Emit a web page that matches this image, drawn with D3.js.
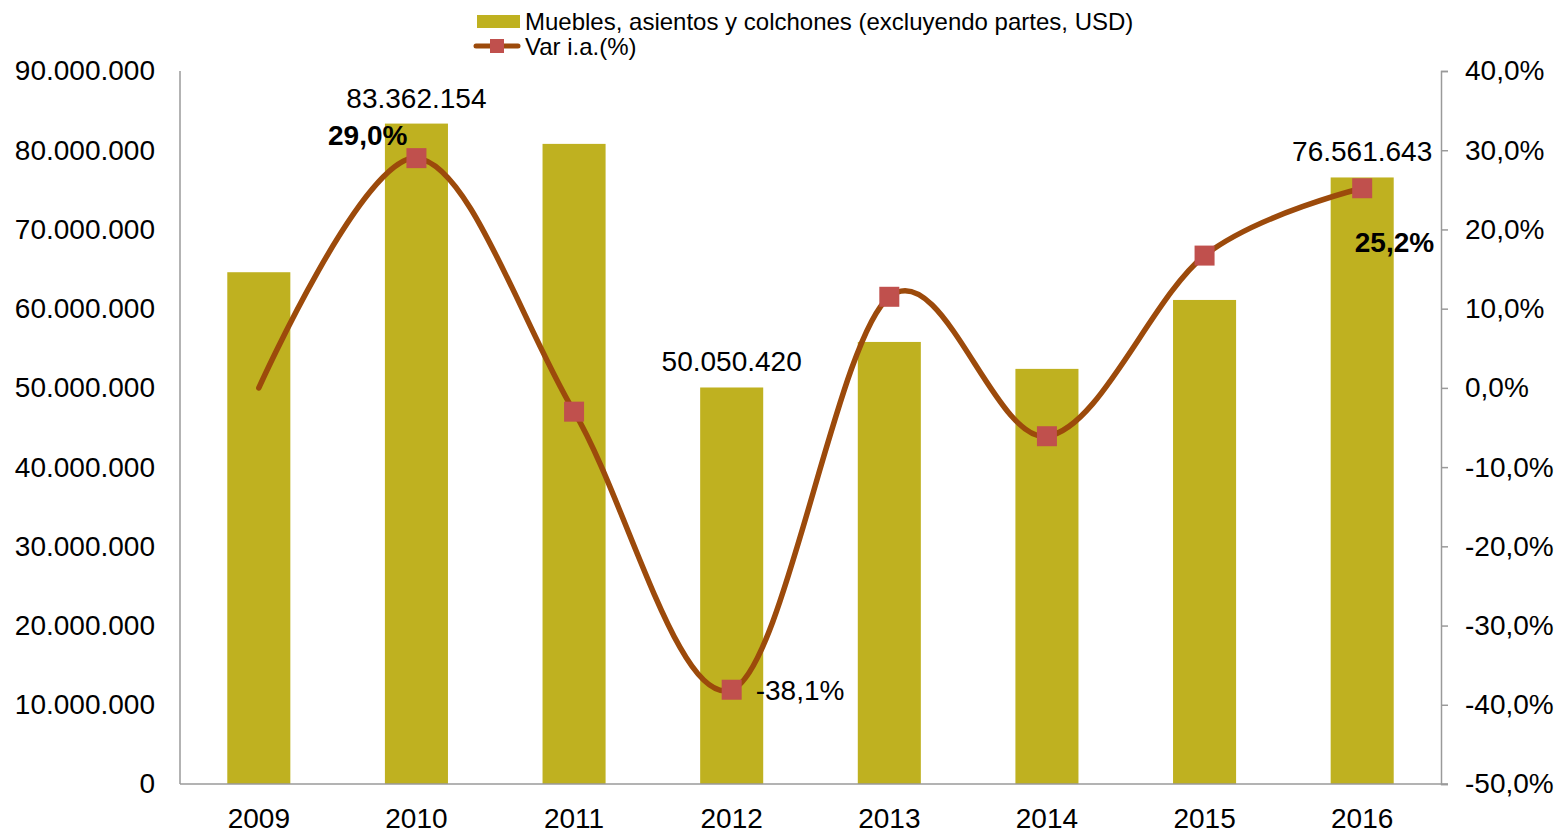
<!DOCTYPE html>
<html>
<head>
<meta charset="utf-8">
<script src="https://cdn.jsdelivr.net/npm/d3@7"></script>
<style>
  body { margin: 0; background: #fff; }
  svg { font-family: "Liberation Sans", Arial, sans-serif; }
</style>
</head>
<body>
<svg width="1558" height="831"></svg>
<script>
const years = ['2009', '2010', '2011', '2012', '2013', '2014', '2015', '2016']
const usdValues = [64600000, 83362154, 80800000, 50050420, 55800000, 52400000, 61100000, 76561643]
const varValues = [0, 29.0, -3.0, -38.1, 11.5, -6.1, 16.7, 25.2]
const leftTicks = [0, 10000000, 20000000, 30000000, 40000000, 50000000, 60000000, 70000000, 80000000, 90000000]
const rightTicks = [-50, -40, -30, -20, -10, 0, 10, 20, 30, 40]
const seriesNames = ['Muebles, asientos y colchones (excluyendo partes, USD)', 'Var i.a.(%)']

const svg = d3.select('svg')
const margin = { left: 180, right: 1441, top: 71, bottom: 784 }

const barColor = '#BFB120'
const lineColor = '#9C4A0B'
const markColor = '#C0504D'
const axisColor = '#9a9a9a'
const fontSize = '28px'

const x = d3.scaleBand()
    .domain(years)
    .range([margin.left, margin.right])
    .paddingInner(0.6)
    .paddingOuter(0.3)

const yL = d3.scaleLinear().domain([0, 90000000]).range([margin.bottom, margin.top])
const yR = d3.scaleLinear().domain([-50, 40]).range([margin.bottom, margin.top])

const dotFmt = d3.formatLocale({ decimal: ',', thousands: '.', grouping: [3], currency: ['', ''], minus: '-' })
const fmtUsd = dotFmt.format(',.0f')
const fmtPct = v => dotFmt.format('.1f')(v) + '%'

// bars
svg.append('g')
    .selectAll('rect')
    .data(usdValues)
    .enter()
    .append('rect')
    .attr('x', (d, i) => x(years[i]))
    .attr('y', d => yL(d))
    .attr('width', x.bandwidth())
    .attr('height', d => yL(0) - yL(d))
    .attr('fill', barColor)

// axes
const leftAxis = d3.axisLeft(yL).tickValues(leftTicks).tickSize(0).tickPadding(25)
    .tickFormat(d => fmtUsd(d))
const gL = svg.append('g').attr('transform', `translate(${margin.left},0)`).call(leftAxis)

const rightAxis = d3.axisRight(yR).tickValues(rightTicks).tickSize(7).tickPadding(17)
    .tickFormat(d => fmtPct(d))
const gR = svg.append('g').attr('transform', `translate(${margin.right},0)`).call(rightAxis)

const bottomAxis = d3.axisBottom(x).tickSize(0).tickPadding(24)
const gB = svg.append('g').attr('transform', `translate(0,${margin.bottom})`).call(bottomAxis)

;[gL, gR, gB].forEach(g => {
    g.select('.domain').attr('stroke', axisColor).attr('stroke-width', 1.5)
    g.selectAll('.tick line').attr('stroke', axisColor).attr('stroke-width', 1.5)
    g.selectAll('text').attr('fill', '#000').style('font-size', fontSize).style('font-family', '"Liberation Sans", Arial, sans-serif')
})
gL.select('.domain').attr('d', `M0,${margin.top}V${margin.bottom}`)
gB.select('.domain').attr('d', `M0,0H${margin.right - margin.left + 7}`).attr('transform', `translate(${margin.left},0)`)
gB.selectAll('text').attr('dy', '0.71em')

// line
const cx = i => x(years[i]) + x.bandwidth() / 2
const line = d3.line()
    .x((d, i) => cx(i))
    .y(d => yR(d))
    .curve(d3.curveCardinal.tension(0))

svg.append('path')
    .datum(varValues)
    .attr('d', line)
    .attr('fill', 'none')
    .attr('stroke', lineColor)
    .attr('stroke-width', 5.5)
    .attr('stroke-linecap', 'round')

// markers (not for the base year)
svg.append('g')
    .selectAll('rect')
    .data(varValues.slice(1))
    .enter()
    .append('rect')
    .attr('x', (d, i) => cx(i + 1) - 10)
    .attr('y', d => yR(d) - 10)
    .attr('width', 20)
    .attr('height', 20)
    .attr('fill', markColor)

// data labels
const labels = svg.append('g').style('font-size', fontSize).attr('fill', '#000')
;[1, 3, 7].forEach(i => {
    labels.append('text')
        .attr('x', cx(i))
        .attr('y', yL(usdValues[i]) - 16)
        .attr('text-anchor', 'middle')
        .text(fmtUsd(usdValues[i]))
})

labels.append('text')
    .attr('x', cx(1) - 9).attr('y', yR(varValues[1]) - 13)
    .attr('text-anchor', 'end').attr('font-weight', 'bold')
    .text(fmtPct(varValues[1]))
labels.append('text')
    .attr('x', cx(3) + 24).attr('y', yR(varValues[3]) + 10)
    .attr('text-anchor', 'start')
    .text(fmtPct(varValues[3]))
labels.append('text')
    .attr('x', cx(7) + 72).attr('y', yR(varValues[7]) + 64)
    .attr('text-anchor', 'end').attr('font-weight', 'bold')
    .text(fmtPct(varValues[7]))

// legend
const lg = svg.append('g').style('font-size', '24px')
lg.append('rect').attr('x', 477).attr('y', 15).attr('width', 43).attr('height', 13).attr('fill', barColor)
lg.append('text').attr('x', 525).attr('y', 30).text(seriesNames[0])
lg.append('line').attr('x1', 476).attr('x2', 518).attr('y1', 46).attr('y2', 46)
    .attr('stroke', lineColor).attr('stroke-width', 5).attr('stroke-linecap', 'round')
lg.append('rect').attr('x', 490).attr('y', 39).attr('width', 14).attr('height', 14).attr('fill', markColor)
lg.append('text').attr('x', 525).attr('y', 55).text(seriesNames[1])
</script>
</body>
</html>
